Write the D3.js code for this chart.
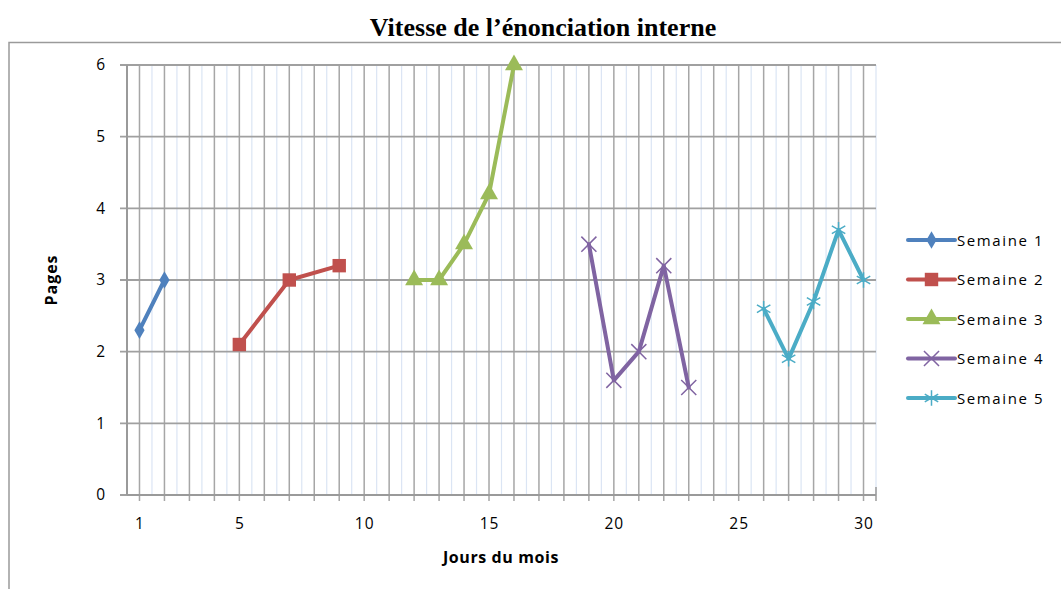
<!DOCTYPE html>
<html>
<head>
<meta charset="utf-8">
<script src="https://cdnjs.cloudflare.com/ajax/libs/d3/7.8.5/d3.min.js"></script>
<style>
  body { margin: 0; background: #fff; }
  svg { display: block; }
</style>
</head>
<body>
<div id="chart"></div>
<script>
// data
var days = d3.range(1, 31);
var xTickLabels = [1, 5, 10, 15, 20, 25, 30];
var yTicks = [0, 1, 2, 3, 4, 5, 6];

var seriesNames = ["Semaine 1", "Semaine 2", "Semaine 3", "Semaine 4", "Semaine 5"];
var week1Days = [1, 2];
var week1Pages = [2.3, 3.0];
var week2Days = [5, 7, 9];
var week2Pages = [2.1, 3.0, 3.2];
var week3Days = [12, 13, 14, 15, 16];
var week3Pages = [3.0, 3.0, 3.5, 4.2, 6.0];
var week4Days = [19, 20, 21, 22, 23];
var week4Pages = [3.5, 1.6, 2.0, 3.2, 1.5];
var week5Days = [26, 27, 28, 29, 30];
var week5Pages = [2.6, 1.9, 2.7, 3.7, 3.0];

var colors = ["#4F81BD", "#C0504D", "#9BBB59", "#8064A2", "#4BACC6"];
var symbols = [d3.symbolDiamond, d3.symbolSquare, d3.symbolTriangle, d3.symbolTimes, d3.symbolAsterisk];
var symbolSizes = [90, 180, 140, 150, 170];
var filled = [true, true, true, false, false];

var series = [
    {name: seriesNames[0], days: week1Days, pages: week1Pages},
    {name: seriesNames[1], days: week2Days, pages: week2Pages},
    {name: seriesNames[2], days: week3Days, pages: week3Pages},
    {name: seriesNames[3], days: week4Days, pages: week4Pages},
    {name: seriesNames[4], days: week5Days, pages: week5Pages}
];

//svg size
var svgWidth = 1061;
var svgHeight = 589;

var plot = {left: 127, right: 876, top: 65, bottom: 495};

var svg = d3.select("#chart").append("svg")
    .attr("width", svgWidth)
    .attr("height", svgHeight);

//outer frame
svg.append("path")
    .attr("d", "M9,600 L9,42.5 L1070,42.5")
    .attr("fill", "none")
    .attr("stroke", "#9a9a9a")
    .attr("stroke-width", 1.5);

//title
svg.append("text")
    .attr("x", 543)
    .attr("y", 36)
    .attr("text-anchor", "middle")
    .attr("font-family", "'Liberation Serif', 'Times New Roman', serif")
    .attr("font-weight", "bold")
    .attr("font-size", "26px")
    .text("Vitesse de l’énonciation interne");

//scales
var x = d3.scalePoint()
    .domain(days)
    .range([plot.left, plot.right])
    .padding(0.5);

var y = d3.scaleLinear()
    .domain([0, 6])
    .range([plot.bottom, plot.top]);

var step = x.step();
var grid = svg.append("g");

//minor vertical gridlines (light blue)
grid.selectAll(".minor")
    .data(days)
    .enter()
    .append("line")
    .attr("x1", d => x(d) + step / 2)
    .attr("x2", d => x(d) + step / 2)
    .attr("y1", plot.top)
    .attr("y2", plot.bottom)
    .attr("stroke", "#dbe5f4")
    .attr("stroke-width", 1.2);

//major vertical gridlines
grid.selectAll(".majorV")
    .data(days)
    .enter()
    .append("line")
    .attr("x1", d => x(d))
    .attr("x2", d => x(d))
    .attr("y1", plot.top)
    .attr("y2", plot.bottom + 6)
    .attr("stroke", "#a6a6a6")
    .attr("stroke-width", 1.5);

//horizontal gridlines
grid.selectAll(".majorH")
    .data(yTicks)
    .enter()
    .append("line")
    .attr("x1", plot.left - 7)
    .attr("x2", plot.right)
    .attr("y1", d => y(d))
    .attr("y2", d => y(d))
    .attr("stroke", "#a0a0a0")
    .attr("stroke-width", 1.8);

//axes
var bottomAxis = d3.axisBottom(x)
    .tickValues(xTickLabels)
    .tickSize(0)
    .tickPadding(23);

var leftAxis = d3.axisLeft(y)
    .tickValues(yTicks)
    .tickFormat(d3.format("d"))
    .tickSize(0)
    .tickPadding(21);

var xAxis = svg.append("g")
    .attr("transform", `translate(0, ${plot.bottom})`)
    .call(bottomAxis);

var yAxis = svg.append("g")
    .attr("transform", `translate(${plot.left}, 0)`)
    .call(leftAxis);

[xAxis, yAxis].forEach(function (a) {
    a.select(".domain").remove();
    a.selectAll("text")
        .attr("font-family", "'Open Sans', sans-serif")
        .attr("font-size", "15.5px")
        .attr("letter-spacing", "1px")
        .attr("fill", "#000");
});

//axis lines
svg.append("line")
    .attr("x1", plot.left)
    .attr("x2", plot.left)
    .attr("y1", plot.top)
    .attr("y2", plot.bottom)
    .attr("stroke", "#9a9a9a")
    .attr("stroke-width", 2);

svg.append("line")
    .attr("x1", plot.left)
    .attr("x2", plot.right)
    .attr("y1", plot.bottom)
    .attr("y2", plot.bottom)
    .attr("stroke", "#9a9a9a")
    .attr("stroke-width", 2);

svg.append("line")
    .attr("x1", plot.right)
    .attr("x2", plot.right)
    .attr("y1", plot.bottom - 8)
    .attr("y2", plot.bottom + 6)
    .attr("stroke", "#9a9a9a")
    .attr("stroke-width", 1.5);

//axis titles
svg.append("text")
    .attr("x", 501)
    .attr("y", 563)
    .attr("text-anchor", "middle")
    .attr("font-family", "'Open Sans', sans-serif")
    .attr("font-weight", "bold")
    .attr("font-size", "16px")
    .attr("letter-spacing", "0.6px")
    .text("Jours du mois");

svg.append("text")
    .attr("transform", "translate(57, 280) rotate(-90)")
    .attr("text-anchor", "middle")
    .attr("font-family", "'Open Sans', sans-serif")
    .attr("font-weight", "bold")
    .attr("font-size", "16px")
    .attr("letter-spacing", "1px")
    .text("Pages");

//lines and markers
var line = d3.line()
    .x(d => x(d.day))
    .y(d => y(d.pages));

series.forEach(function (s, i) {
    var pts = s.days.map((d, j) => ({day: d, pages: s.pages[j]}));
    var g = svg.append("g");

    g.append("path")
        .datum(pts)
        .attr("d", line)
        .attr("fill", "none")
        .attr("stroke", colors[i])
        .attr("stroke-width", 4)
        .attr("stroke-linejoin", "round")
        .attr("stroke-linecap", "round");

    g.selectAll("path.marker")
        .data(pts)
        .enter()
        .append("path")
        .classed("marker", true)
        .attr("transform", d => `translate(${x(d.day)}, ${y(d.pages)})`)
        .attr("d", d3.symbol(symbols[i], symbolSizes[i]))
        .attr("fill", filled[i] ? colors[i] : "none")
        .attr("stroke", colors[i])
        .attr("stroke-width", filled[i] ? 0 : 1.5);
});

//legend
var legend = svg.append("g")
    .attr("transform", "translate(908, 240)");

var legendItems = legend.selectAll("g")
    .data(series)
    .enter()
    .append("g")
    .attr("transform", (d, i) => `translate(0, ${i * 39.5})`);

legendItems.append("line")
    .attr("x1", 0)
    .attr("x2", 47)
    .attr("stroke", (d, i) => colors[i])
    .attr("stroke-width", 4)
    .attr("stroke-linecap", "round");

legendItems.append("path")
    .attr("transform", "translate(23.5, 0)")
    .attr("d", (d, i) => d3.symbol(symbols[i], symbolSizes[i])())
    .attr("fill", (d, i) => filled[i] ? colors[i] : "none")
    .attr("stroke", (d, i) => colors[i])
    .attr("stroke-width", (d, i) => filled[i] ? 0 : 1.5);

legendItems.append("text")
    .attr("x", 49)
    .attr("y", 5.5)
    .attr("font-family", "'Open Sans', sans-serif")
    .attr("font-size", "15px")
    .attr("letter-spacing", "1.6px")
    .text(d => d.name);
</script>
</body>
</html>
